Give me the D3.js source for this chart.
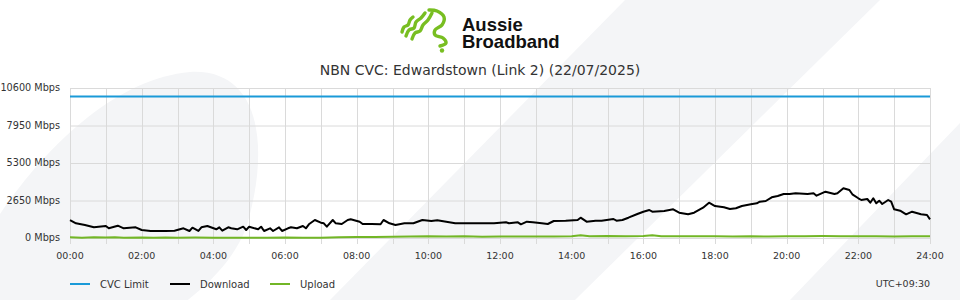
<!DOCTYPE html>
<html>
<head>
<meta charset="utf-8">
<script src="https://cdn.jsdelivr.net/npm/d3@7"></script>
<style>
  html, body { margin: 0; padding: 0; background: #fff; }
  svg { display: block; font-family: "DejaVu Sans", sans-serif; }
</style>
</head>
<body>
<svg id="chart" width="960" height="300"></svg>
<script>
// minutes after midnight, Mbps
const downloadMinutes = [0, 10, 25, 40, 60, 65, 80, 90, 110, 120, 135, 160, 175, 190, 200, 205, 215, 220, 230, 245,
  250, 255, 265, 270, 280, 290, 295, 300, 315, 320, 325, 335, 340, 350, 355, 365, 370, 380, 390, 395,
  400, 410, 420, 425, 430, 440, 445, 455, 465, 470, 485, 490, 505, 520, 525, 535, 545, 560, 575, 590,
  605, 615, 630, 645, 665, 690, 710, 730, 735, 750, 755, 765, 775, 790, 800, 810, 830, 850, 855, 865,
  880, 890, 910, 915, 925, 935, 950, 960, 970, 975, 995, 1010, 1020, 1035, 1045, 1060, 1070, 1080, 1095, 1105,
  1115, 1125, 1140, 1150, 1155, 1165, 1175, 1185, 1195, 1205, 1215, 1235, 1245, 1250, 1265, 1280, 1285, 1295, 1305, 1310,
  1320, 1325, 1335, 1340, 1345, 1350, 1355, 1360, 1370, 1375, 1380, 1390, 1400, 1410, 1425, 1435, 1440];
const downloadMbps = [1270, 1040, 920, 760, 850, 685, 870, 685, 756, 565, 495, 495, 516, 685, 495, 728, 495, 756, 848, 615,
  756, 516, 756, 685, 615, 799, 565, 799, 615, 799, 495, 685, 495, 756, 495, 685, 756, 685, 848, 685,
  968, 1272, 1081, 1039, 799, 1272, 1039, 989, 1272, 1321, 1152, 989, 989, 968, 1272, 1039, 919, 1039, 1039, 1272,
  1201, 1251, 1152, 1039, 1039, 1039, 1039, 1109, 1039, 1109, 968, 1152, 1109, 1039, 989, 1201, 1223, 1272, 1435, 1152,
  1223, 1223, 1343, 1223, 1272, 1435, 1696, 1859, 1979, 1859, 1908, 2028, 1788, 1675, 1788, 2141, 2495, 2261, 2170, 2049,
  2099, 2261, 2382, 2452, 2565, 2615, 2876, 2968, 3109, 3109, 3159, 3109, 3159, 2989, 3272, 3109, 3159, 3512, 3392, 3088,
  2806, 2685, 2756, 2495, 2806, 2452, 2636, 2403, 2685, 2565, 2028, 1929, 1675, 1859, 1675, 1625, 1321];

const uploadMinutes = [0, 20, 40, 60, 75, 90, 120, 140, 160, 180, 210, 240, 270, 300, 330, 360, 390, 420, 450, 480,
  510, 540, 570, 600, 630, 660, 690, 720, 750, 780, 810, 840, 855, 870, 900, 930, 960, 975, 990, 1020,
  1050, 1080, 1110, 1140, 1170, 1200, 1230, 1260, 1290, 1320, 1350, 1380, 1410, 1440];
const uploadMbps = [50, 25, 60, 35, 60, 25, 40, 15, 30, 20, 30, 20, 15, 25, 15, 30, 15, 25, 50, 70,
  70, 80, 100, 120, 100, 120, 90, 110, 100, 110, 100, 130, 190, 120, 140, 115, 140, 200, 130, 130,
  120, 130, 110, 125, 105, 125, 125, 135, 125, 125, 125, 100, 115, 115];

const cvcLimitMbps = 10000;

const yTicks = [0, 2650, 5300, 7950, 10600];
const xTickHours = [0, 2, 4, 6, 8, 10, 12, 14, 16, 18, 20, 22, 24];
const titleText = "NBN CVC: Edwardstown (Link 2) (22/07/2025)";
const legendItems = [
  { name: "CVC Limit", color: "#1a9ad8" },
  { name: "Download", color: "#000000" },
  { name: "Upload", color: "#72b626" }
];

const svg = d3.select("#chart");

// background decoration
const bgColor = "#f4f5f7";
svg.append("rect").attr("width", 960).attr("height", 300).attr("fill", "#fff");
const bg = svg.append("g");
bg.append("path").attr("fill", bgColor)
  .attr("d", "M0,214 C50,140 120,78 190,72 C262,68 270,150 246,228 C230,270 190,300 160,320 L0,320 Z");
bg.append("path").attr("fill", bgColor)
  .attr("d", "M625,0 L880,0 L575,300 L330,300 Z");
bg.append("path").attr("fill", bgColor)
  .attr("d", "M1078,0 L960,0 L960,300 L790,300 Z");

// logo
const logo = svg.append("g");
const logoStrokes = [
  [[402, 32], [404, 27], [408, 25], [410, 20], [413, 17]],
  [[406, 36], [409, 30], [414, 28], [416, 22], [421, 18], [425, 13]],
  [[412, 39], [415, 33], [420, 31], [423, 25], [428, 20], [432, 13]],
  [[429, 10], [437, 11], [444, 17], [442, 25], [435, 30], [435, 35], [443, 38], [446, 43], [440, 46]]
];
const logoLine = d3.line().curve(d3.curveCatmullRom);
logo.selectAll("path").data(logoStrokes).join("path")
  .attr("d", logoLine)
  .attr("fill", "none")
  .attr("stroke", "#78be21")
  .attr("stroke-width", 3.4)
  .attr("stroke-linecap", "round")
  .attr("stroke-linejoin", "round");
logo.append("circle").attr("cx", 442).attr("cy", 50.5).attr("r", 2.2).attr("fill", "#78be21");
logo.append("text").attr("x", 462).attr("y", 31)
  .attr("font-family", "'Liberation Sans', Arial, sans-serif").attr("font-weight", "bold")
  .attr("font-size", 18.5).attr("fill", "#111").text("Aussie");
logo.append("text").attr("x", 462).attr("y", 48)
  .attr("font-family", "'Liberation Sans', Arial, sans-serif").attr("font-weight", "bold")
  .attr("font-size", 18.5).attr("fill", "#111").text("Broadband");

// title
svg.append("text")
  .attr("x", 480).attr("y", 75)
  .attr("text-anchor", "middle")
  .attr("font-size", 14)
  .attr("fill", "#333")
  .text(titleText);

// scales
const x = d3.scaleLinear().domain([0, 1440]).range([70, 930]);
const y = d3.scaleLinear().domain([0, 10600]).range([238, 88]);

// grid
const grid = svg.append("g");
grid.selectAll("line.h").data(yTicks).join("line")
  .attr("class", "h")
  .attr("x1", 70).attr("x2", 930)
  .attr("y1", d => y(d) + 0.5).attr("y2", d => y(d) + 0.5)
  .attr("stroke", "#dadada");
grid.selectAll("line.v").data(d3.range(0, 25)).join("line")
  .attr("class", "v")
  .attr("x1", d => Math.round(x(d * 60)) + 0.5).attr("x2", d => Math.round(x(d * 60)) + 0.5)
  .attr("y1", 88).attr("y2", 244)
  .attr("stroke", "#dadada");

// y labels
svg.append("g").selectAll("text").data(yTicks).join("text")
  .attr("x", 60).attr("y", d => y(d))
  .attr("dy", "0.35em")
  .attr("text-anchor", "end")
  .attr("font-size", 9.7)
  .attr("fill", "#333")
  .text(d => d + " Mbps");

// x labels
svg.append("g").selectAll("text").data(xTickHours).join("text")
  .attr("x", d => x(d * 60)).attr("y", 256)
  .attr("dy", "0.35em")
  .attr("text-anchor", "middle")
  .attr("font-size", 9.5)
  .attr("fill", "#333")
  .text(d => String(d).padStart(2, "0") + ":00");

// series
const line = d3.line().x(d => x(d[0])).y(d => y(d[1]));
svg.append("path")
  .attr("d", line([[0, cvcLimitMbps], [1440, cvcLimitMbps]]))
  .attr("fill", "none").attr("stroke", legendItems[0].color).attr("stroke-width", 2);
svg.append("path")
  .attr("d", line(d3.zip(uploadMinutes, uploadMbps)))
  .attr("fill", "none").attr("stroke", legendItems[2].color).attr("stroke-width", 2)
  .attr("stroke-linejoin", "round");
svg.append("path")
  .attr("d", line(d3.zip(downloadMinutes, downloadMbps)))
  .attr("fill", "none").attr("stroke", legendItems[1].color).attr("stroke-width", 2)
  .attr("stroke-linejoin", "round");

// legend
const legend = svg.append("g").selectAll("g").data(legendItems).join("g")
  .attr("transform", (d, i) => `translate(${70 + i * 100},284)`);
legend.append("line")
  .attr("x1", 0).attr("x2", 20)
  .attr("stroke", d => d.color).attr("stroke-width", 2);
legend.append("text")
  .attr("x", 30).attr("dy", "0.35em")
  .attr("font-size", 10)
  .attr("fill", "#333")
  .text(d => d.name);

svg.append("text")
  .attr("x", 930).attr("y", 284).attr("dy", "0.35em")
  .attr("text-anchor", "end")
  .attr("font-size", 9.5)
  .attr("fill", "#333")
  .text("UTC+09:30");
</script>
</body>
</html>
